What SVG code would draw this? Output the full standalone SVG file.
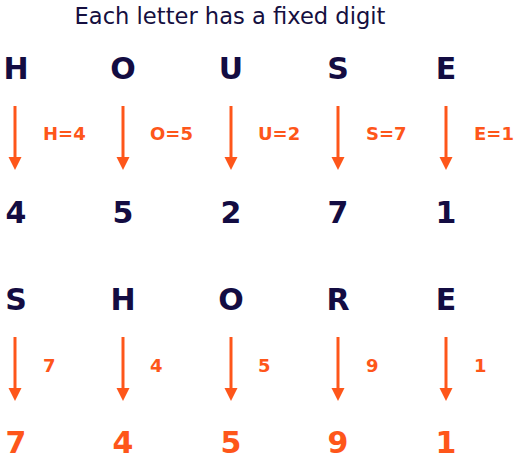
<svg xmlns="http://www.w3.org/2000/svg" width="520" height="459" viewBox="0 0 520 459">
<defs>
<style>
.title{font-family:"DejaVu Sans",Verdana,sans-serif;font-size:22.6px;fill:#150f40;text-anchor:middle}
.big{font-family:"DejaVu Sans",Verdana,sans-serif;font-size:30px;font-weight:bold;text-anchor:middle}
.navy{fill:#130c42}
.or{fill:#fe561a}
.lbl{font-family:"DejaVu Sans",Verdana,sans-serif;font-size:18px;font-weight:bold;fill:#fe561a}
.arr{stroke:#fe561a;stroke-width:3;fill:none}
</style>
</defs>
<rect width="520" height="459" fill="#ffffff"/>
<text class="title" x="230" y="24">Each letter has a fixed digit</text>
<g id="connectors">
<path class="arr" d="M15,106 V158"/><polygon class="or" points="8.5,157 21.5,157 15,170"/>
<path class="arr" d="M123,106 V158"/><polygon class="or" points="116.5,157 129.5,157 123,170"/>
<path class="arr" d="M231,106 V158"/><polygon class="or" points="224.5,157 237.5,157 231,170"/>
<path class="arr" d="M338,106 V158"/><polygon class="or" points="331.5,157 344.5,157 338,170"/>
<path class="arr" d="M446,106 V158"/><polygon class="or" points="439.5,157 452.5,157 446,170"/>
<path class="arr" d="M15,337 V389"/><polygon class="or" points="8.5,388 21.5,388 15,401"/>
<path class="arr" d="M123,337 V389"/><polygon class="or" points="116.5,388 129.5,388 123,401"/>
<path class="arr" d="M231,337 V389"/><polygon class="or" points="224.5,388 237.5,388 231,401"/>
<path class="arr" d="M338,337 V389"/><polygon class="or" points="331.5,388 344.5,388 338,401"/>
<path class="arr" d="M446,337 V389"/><polygon class="or" points="439.5,388 452.5,388 446,401"/>
</g>
<g id="house-H"><text class="big navy" x="16" y="79">H</text><text class="lbl" x="43" y="140">H=4</text><text class="big navy" x="16" y="223">4</text></g>
<g id="house-O"><text class="big navy" x="123" y="79">O</text><text class="lbl" x="150" y="140">O=5</text><text class="big navy" x="123" y="223">5</text></g>
<g id="house-U"><text class="big navy" x="231" y="79">U</text><text class="lbl" x="258" y="140">U=2</text><text class="big navy" x="231" y="223">2</text></g>
<g id="house-S"><text class="big navy" x="338" y="79">S</text><text class="lbl" x="366" y="140">S=7</text><text class="big navy" x="338" y="223">7</text></g>
<g id="house-E"><text class="big navy" x="446" y="79">E</text><text class="lbl" x="474" y="140">E=1</text><text class="big navy" x="446" y="223">1</text></g>
<g id="shore-S"><text class="big navy" x="16" y="310">S</text><text class="lbl" x="43" y="372">7</text><text class="big or" x="16" y="453">7</text></g>
<g id="shore-H"><text class="big navy" x="123" y="310">H</text><text class="lbl" x="150" y="372">4</text><text class="big or" x="123" y="453">4</text></g>
<g id="shore-O"><text class="big navy" x="231" y="310">O</text><text class="lbl" x="258" y="372">5</text><text class="big or" x="231" y="453">5</text></g>
<g id="shore-R"><text class="big navy" x="338" y="310">R</text><text class="lbl" x="366" y="372">9</text><text class="big or" x="338" y="453">9</text></g>
<g id="shore-E"><text class="big navy" x="446" y="310">E</text><text class="lbl" x="474" y="372">1</text><text class="big or" x="446" y="453">1</text></g>
</svg>
